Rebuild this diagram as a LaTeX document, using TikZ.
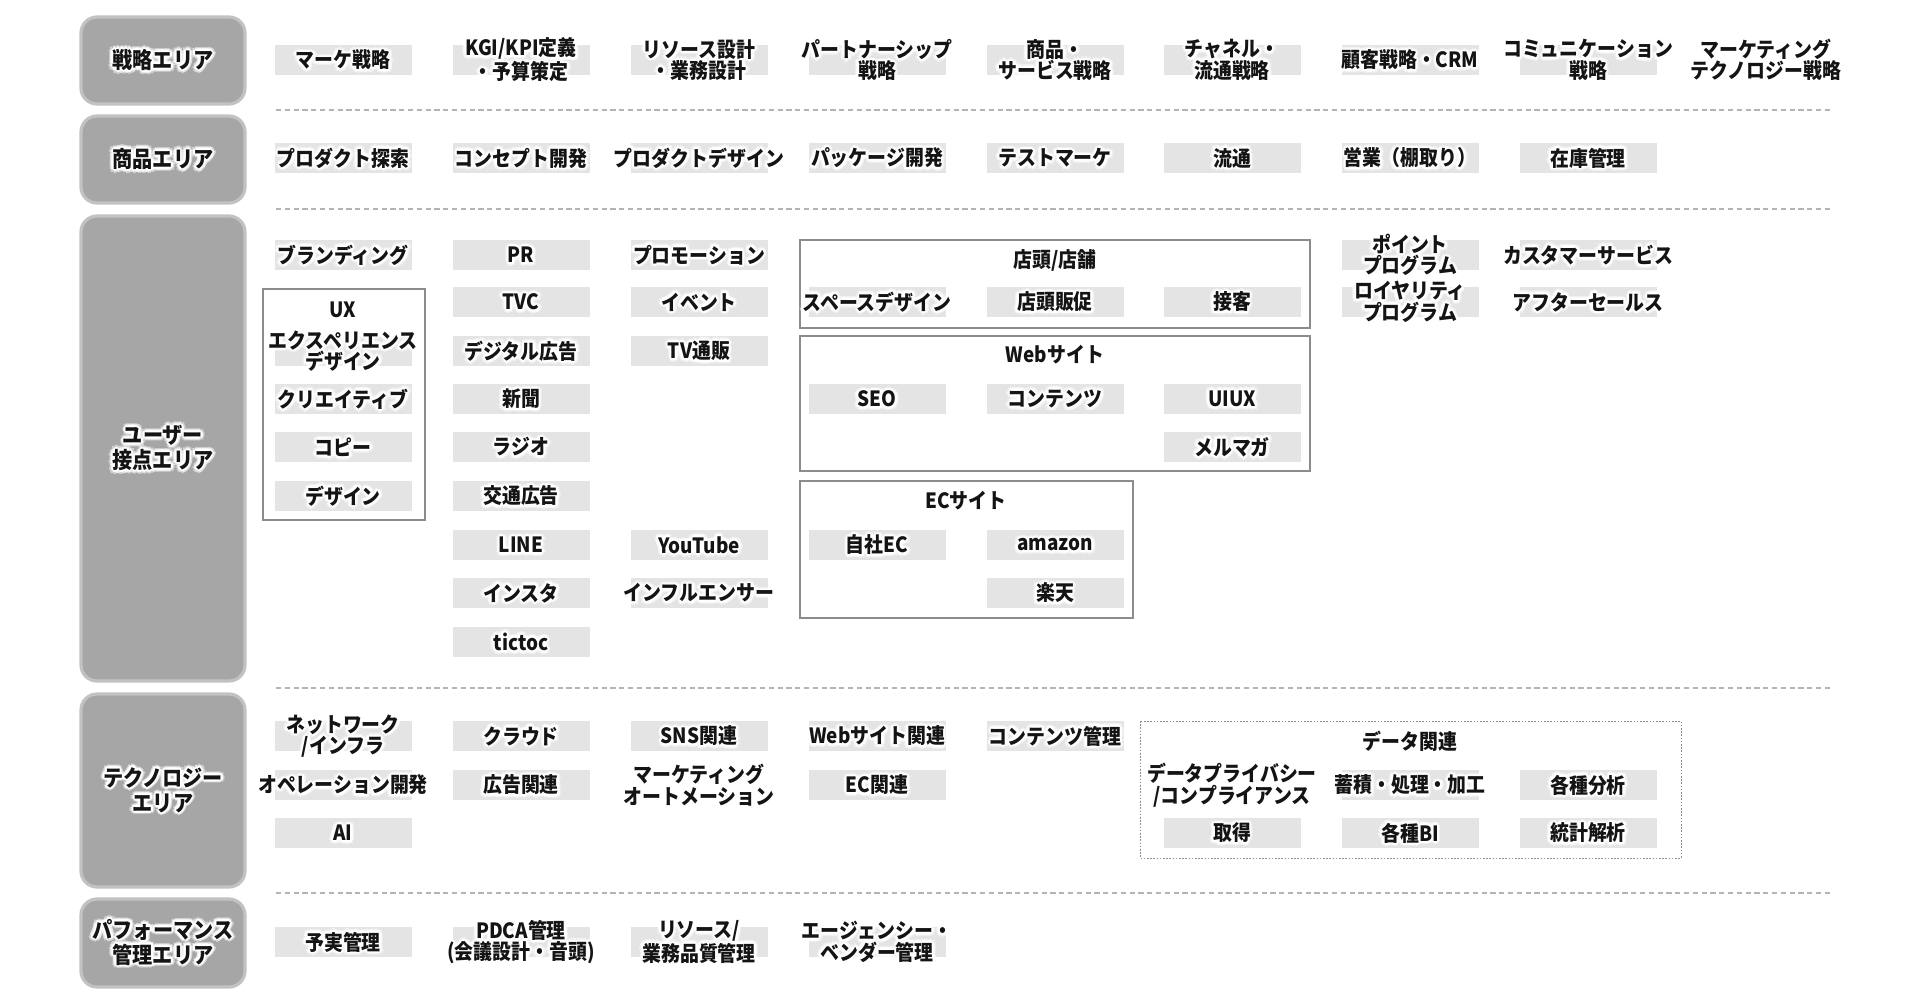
\documentclass[tikz,border=0pt]{standalone}
\usepackage{fontspec}
\setmainfont{Noto Sans CJK JP}[FakeStretch=0.9]
\usetikzlibrary{calc}
\definecolor{areafill}{HTML}{A6A6A6}
\definecolor{areaedge}{HTML}{C2C2C2}
\definecolor{itemfill}{HTML}{E4E4E4}
\definecolor{txt}{HTML}{141414}
\definecolor{framec}{HTML}{8C8C8C}
\definecolor{sepc}{HTML}{B4B4B4}
\tikzset{
  lbl/.style={font=\bfseries\fontsize{10.5}{10.8}\selectfont, align=center, inner sep=0pt, text=txt},
  arealbl/.style={font=\bfseries\fontsize{11.2}{12.5}\selectfont, align=center, inner sep=0pt, text=txt},
  itembox/.style={fill=itemfill, draw=none, minimum width=68.5pt, minimum height=15pt, inner sep=0pt},
  areabox/.style={fill=areafill, draw=areaedge, line width=1.6pt, rounded corners=8pt},
  framebox/.style={draw=framec, line width=0.6pt},
  dotbox/.style={draw=framec, line width=0.5pt, dash pattern=on 0.8pt off 0.8pt},
  sepline/.style={draw=sepc, line width=0.7pt, dash pattern=on 2.6pt off 1.8pt},
}
% glowing text: #1 style, #2 name, #3 position, #4 text
\newcommand\glowtext[4]{%
  \foreach \ang in {0,45,...,315}{
    \node[#1,text=white,opacity=0.5] at ($(#3)+(\ang:3.8)$) {#4};
    \node[#1,text=white] at ($(#3)+(\ang:1.9)$) {#4};
  }
  \node[#1] (#2) at (#3) {#4};
}
\newcommand\itm[4]{\node[itembox] (#1-bg) at (#2,#3) {}; \glowtext{lbl}{#1}{#2,#3}{#4}}
\newcommand\itn[4]{\glowtext{lbl}{#1}{#2,#3}{#4}}
\begin{document}
\begin{tikzpicture}[x=0.5pt,y=-0.5pt]
\useasboundingbox[fill=white] (0,0) rectangle (1920,1005);

% area boxes
\draw[areabox] (81,17) rectangle (245,104);
\draw[areabox] (81,116) rectangle (245,203);
\draw[areabox] (81,216) rectangle (245,681);
\draw[areabox] (81,694) rectangle (245,887);
\draw[areabox] (81,899) rectangle (245,987);
\glowtext{arealbl}{a1}{163,60}{戦略エリア}
\glowtext{arealbl}{a2}{163,159}{商品エリア}
\glowtext{arealbl}{a3}{163,448}{ユーザー\\接点エリア}
\glowtext{arealbl}{a4}{163,790}{テクノロジー\\エリア}
\glowtext{arealbl}{a5}{163,942}{パフォーマンス\\管理エリア}

% separators
\draw[sepline] (276,110) -- (1831,110);
\draw[sepline] (276,209) -- (1831,209);
\draw[sepline] (276,688) -- (1831,688);
\draw[sepline] (276,893) -- (1831,893);

% frames
\draw[framebox] (263,289) rectangle (425,520);
\draw[framebox] (800,240) rectangle (1310,328);
\draw[framebox] (800,336) rectangle (1310,471);
\draw[framebox] (800,481) rectangle (1133,618);
\draw[dotbox] (1140,721) rectangle (1681,858);

% row 1: strategy
\itm{s1}{343}{60}{マーケ戦略}
\itm{s2}{521}{60}{KGI/KPI定義\\・予算策定}
\itm{s3}{699}{60}{リソース設計\\・業務設計}
\itm{s4}{877}{60}{パートナーシップ\\戦略}
\itm{s5}{1055}{60}{商品・\\サービス戦略}
\itm{s6}{1232}{60}{チャネル・\\流通戦略}
\itm{s7}{1410}{60}{顧客戦略・CRM}
\itm{s8}{1588}{60}{コミュニケーション\\戦略}
\itn{s9}{1766}{60}{マーケティング\\テクノロジー戦略}

% row 2: product
\itm{p1}{343}{158}{プロダクト探索}
\itm{p2}{521}{158}{コンセプト開発}
\itm{p3}{699}{158}{プロダクトデザイン}
\itm{p4}{877}{158}{パッケージ開発}
\itm{p5}{1055}{158}{テストマーケ}
\itm{p6}{1232}{158}{流通}
\itm{p7}{1410}{158}{営業（棚取り）}
\itm{p8}{1588}{158}{在庫管理}

% user contact area
\itm{u1}{343}{255}{ブランディング}
\itn{ux}{343}{310}{UX}
\itm{ux1}{343}{351}{エクスペリエンス\\デザイン}
\itm{ux2}{343}{399}{クリエイティブ}
\itm{ux3}{343}{447}{コピー}
\itm{ux4}{343}{496}{デザイン}

\itm{m1}{521}{255}{PR}
\itm{m2}{521}{302}{TVC}
\itm{m3}{521}{351}{デジタル広告}
\itm{m4}{521}{399}{新聞}
\itm{m5}{521}{447}{ラジオ}
\itm{m6}{521}{496}{交通広告}
\itm{m7}{521}{545}{LINE}
\itm{m8}{521}{593}{インスタ}
\itm{m9}{521}{642}{tictoc}

\itm{q1}{699}{255}{プロモーション}
\itm{q2}{699}{302}{イベント}
\itm{q3}{699}{351}{TV通販}
\itm{q4}{699}{545}{YouTube}
\itm{q5}{699}{593}{インフルエンサー}

\itn{st}{1055}{260}{店頭/店舗}
\itm{st1}{877}{302}{スペースデザイン}
\itm{st2}{1055}{302}{店頭販促}
\itm{st3}{1232}{302}{接客}

\itn{wb}{1055}{355}{Webサイト}
\itm{wb1}{877}{399}{SEO}
\itm{wb2}{1055}{399}{コンテンツ}
\itm{wb3}{1232}{399}{UIUX}
\itm{wb4}{1232}{447}{メルマガ}

\itn{ec}{966}{501}{ECサイト}
\itm{ec1}{877}{545}{自社EC}
\itm{ec2}{1055}{545}{amazon}
\itm{ec3}{1055}{593}{楽天}

\itm{l1}{1410}{255}{ポイント\\プログラム}
\itm{l2}{1410}{302}{ロイヤリティ\\プログラム}
\itm{c1}{1588}{255}{カスタマーサービス}
\itm{c2}{1588}{302}{アフターセールス}

% technology area
\itm{t1}{343}{736}{ネットワーク\\/インフラ}
\itm{t2}{343}{785}{オペレーション開発}
\itm{t3}{343}{833}{AI}
\itm{t4}{521}{736}{クラウド}
\itm{t5}{521}{785}{広告関連}
\itm{t6}{699}{736}{SNS関連}
\itn{t7}{699}{785}{マーケティング\\オートメーション}
\itm{t8}{877}{736}{Webサイト関連}
\itm{t9}{877}{785}{EC関連}
\itm{t10}{1055}{736}{コンテンツ管理}

\itn{d0}{1410}{741}{データ関連}
\itn{d1}{1232}{785}{データプライバシー\\/コンプライアンス}
\itm{d2}{1410}{785}{蓄積・処理・加工}
\itm{d3}{1588}{785}{各種分析}
\itm{d4}{1232}{833}{取得}
\itm{d5}{1410}{833}{各種BI}
\itm{d6}{1588}{833}{統計解析}

% performance area
\itm{f1}{343}{942}{予実管理}
\itm{f2}{521}{942}{PDCA管理\\(会議設計・音頭)}
\itm{f3}{699}{942}{リソース/\\業務品質管理}
\itm{f4}{877}{942}{エージェンシー・\\ベンダー管理}
\end{tikzpicture}
\end{document}
